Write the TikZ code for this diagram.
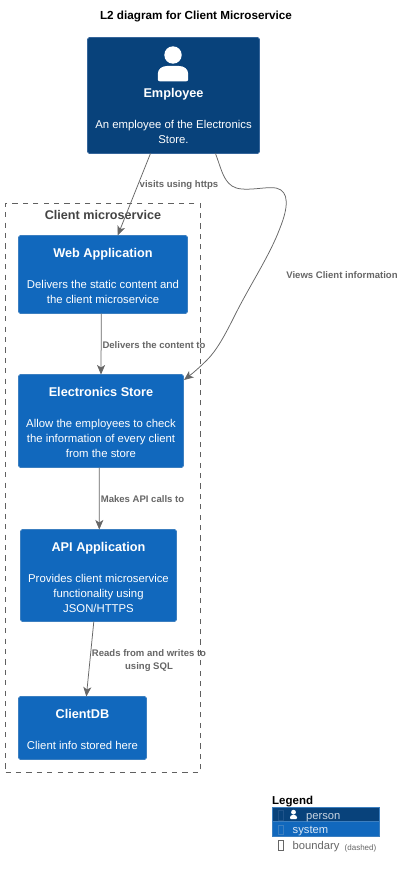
\documentclass[tikz,border=0pt]{standalone}
\usepackage{fontspec}
\setmainfont{Liberation Sans}
\usetikzlibrary{arrows.meta,calc}
\definecolor{personblue}{HTML}{08427B}
\definecolor{personedge}{HTML}{35659A}
\definecolor{sysblue}{HTML}{1168BD}
\definecolor{sysedge}{HTML}{3C7FC0}
\definecolor{linegray}{HTML}{666666}
\definecolor{bordergray}{HTML}{444444}
\tikzset{
  x=1pt,y=-1pt,
  sysbox/.style={draw=sysedge,fill=sysblue,line width=0.8pt,rounded corners=1.8pt,inner sep=0pt,outer sep=0pt,anchor=north west},
  personbox/.style={draw=personedge,fill=personblue,line width=0.8pt,rounded corners=1.8pt,inner sep=0pt,outer sep=0pt,anchor=north west},
  boxtext/.style={text=white,align=center,inner sep=0pt,anchor=north,font=\fontsize{11.35}{15}\selectfont},
  conn/.style={draw=linegray,line width=0.75pt,-{Stealth[length=9.5pt,width=8pt,inset=2.5pt]}},
  connlabel/.style={text=linegray,align=center,inner sep=0pt,font=\fontsize{9.55}{13}\selectfont\bfseries},
  boundary/.style={draw=bordergray!85!white,line width=0.8pt,dash pattern=on 5.2pt off 5.2pt,inner sep=0pt,outer sep=0pt,anchor=north west},
  legendrow/.style={draw=sysedge,line width=0.5pt,inner sep=0pt,outer sep=0pt,anchor=north west,minimum width=107pt,minimum height=14.5pt},
  legendtext/.style={inner sep=0pt,anchor=base west,font=\fontsize{11.2}{13}\selectfont}
}
\newcommand{\boxname}[1]{{\fontsize{12.7}{15}\selectfont\bfseries #1}\\[16pt]}
\begin{document}
\begin{tikzpicture}
\useasboundingbox (0,0) rectangle (403,872);
\fill[white] (0,0) rectangle (403,872);
\node[inner sep=0pt,font=\fontsize{11.7}{13}\selectfont\bfseries,text=black] (title) at (196,16.5) {L2 diagram for Client Microservice};

% boundary
\node[boundary,minimum width=195pt,minimum height=568.5pt] (bound) at (5.5,203.5) {};
\node[inner sep=0pt,text=bordergray,font=\fontsize{12.6}{15}\selectfont\bfseries] (boundtitle) at (103,215) {Client microservice};

% employee
\node[personbox,minimum width=172pt,minimum height=116pt] (emp) at (87.5,37.5) {};
\fill[white] (173,55) circle (8.7);
\fill[white] (157.8,79.3) -- (157.8,74) .. controls (157.8,69) and (162,66) .. (167,66) -- (179,66) .. controls (184,66) and (188.2,69) .. (188.2,74) -- (188.2,79.3) .. controls (188.2,80.6) and (187.2,81.3) .. (186.2,81.3) -- (159.8,81.3) .. controls (158.8,81.3) and (157.8,80.6) .. (157.8,79.3) -- cycle;
\node[boxtext] (emptext) at (173.5,88) {\boxname{Employee}An employee of the Electronics\\Store.};

% systems
\node[sysbox,minimum width=169pt,minimum height=78pt] (web) at (18.5,235.5) {};
\node[boxtext] (webtext) at ($(web.north)+(0,13)$) {\boxname{Web Application}Delivers the static content and\\the client microservice};

\node[sysbox,minimum width=165pt,minimum height=93pt] (store) at (18.5,374.5) {};
\node[boxtext] (storetext) at ($(store.north)+(0,13)$) {\boxname{Electronics Store}Allow the employees to check\\the information of every client\\from the store};

\node[sysbox,minimum width=156pt,minimum height=92pt] (api) at (20.5,529.5) {};
\node[boxtext] (apitext) at ($(api.north)+(0,13)$) {\boxname{API Application}Provides client microservice\\functionality using\\JSON/HTTPS};

\node[sysbox,minimum width=128pt,minimum height=63pt] (db) at (18.5,696.5) {};
\node[boxtext] (dbtext) at ($(db.north)+(0,13)$) {\boxname{ClientDB}Client info stored here};

% connectors
\draw[conn] ($(emp.south west)!0.366!(emp.south east)$) -- ($(web.north west)!0.587!(web.north east)$);
\draw[conn] ($(web.south west)!0.49!(web.south east)$) -- ($(store.north west)!0.50!(store.north east)$);
\draw[conn] ($(store.south west)!0.49!(store.south east)$) -- ($(api.north west)!0.505!(api.north east)$);
\draw[conn] ($(api.south west)!0.47!(api.south east)$) -- ($(db.north west)!0.53!(db.north east)$);
\draw[conn] ($(emp.south west)!0.744!(emp.south east)$)
  .. controls (221,168) and (223,180) .. (232,186)
  .. controls (242,193) and (266,186) .. (276,188)
  .. controls (290,191) and (288,208) .. (280,228)
  .. controls (270,255) and (250,285) .. (235,315)
  .. controls (225,335) and (217,350) .. (207,360)
  .. controls (200,367) and (193,373) .. ($(store.north east)+(0.5,5.5)$);

% connector labels
\node[connlabel] (l1) at (179,185.5) {visits using https};
\node[connlabel] (l2) at (342,275.5) {Views Client information};
\node[connlabel] (l3) at (154,345.5) {Delivers the content to};
\node[connlabel] (l4) at (142.5,499.5) {Makes API calls to};
\node[connlabel,anchor=center] (l5) at (149,661) {Reads from and writes to\\using SQL};

% legend
\node[inner sep=0pt,anchor=base west,font=\fontsize{11.5}{13}\selectfont\bfseries,text=black] (legtitle) at (272,804) {Legend};
\node[legendrow,fill=personblue] (legperson) at (272,807) {};
\node[legendrow,fill=sysblue] (legsys) at (272,821.5) {};
\draw[personedge!50!personblue,line width=0.4pt] (278,810) rectangle (283.5,820);
\draw[sysedge,line width=0.4pt] (278,825) rectangle (283.5,834);
\fill[white] (293.5,812.2) circle (2.4);
\fill[white,rounded corners=1pt] (290,819.2) -- (290,816.5) -- (291.5,815) -- (295.5,815) -- (297,816.5) -- (297,819.2) -- cycle;
\node[legendtext,text=white!78!personblue] (legt1) at (306,819) {person};
\node[legendtext,text=white!85!sysblue] (legt2) at (292.5,833) {system};
\draw[linegray,line width=0.5pt] (278,840) rectangle (283.5,850);
\node[legendtext,text=linegray] (legt3) at (292.5,849) {boundary};
\node[legendtext,text=linegray,font=\fontsize{8}{10}\selectfont] (legt4) at (344.5,850) {(dashed)};
\end{tikzpicture}
\end{document}
